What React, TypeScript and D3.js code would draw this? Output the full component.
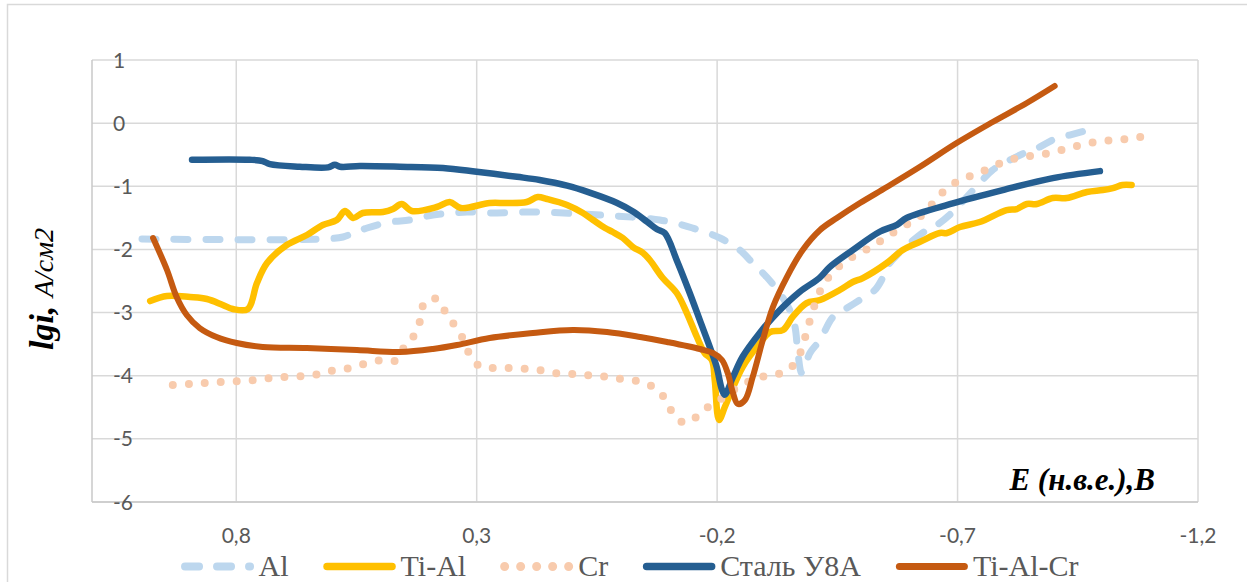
import React, { useEffect, useRef } from 'react';
import * as d3 from 'd3';

const W = 1247;
const H = 582;

// Axis ticks
const xTicks = [0.8, 0.3, -0.2, -0.7, -1.2];
const yTicks = [1, 0, -1, -2, -3, -4, -5, -6];
const xDomain: [number, number] = [1.1, -1.2];
const yDomain: [number, number] = [-6, 1];

const seriesNames = ['Al', 'Ti-Al', 'Cr', 'Сталь У8А', 'Ti-Al-Cr'];

// Polarization curves: [E (V), lg i]
const alData: [number, number][] = [
  [0.996, -1.835], [0.62, -1.835], [0.578, -1.803], [0.557, -1.74], [0.528, -1.661],
  [0.48, -1.566], [0.439, -1.534], [0.391, -1.455], [0.349, -1.423], [0.32, -1.407],
  [0.273, -1.423], [0.183, -1.407], [0.079, -1.439], [0.009, -1.471], [-0.081, -1.534],
  [-0.149, -1.661], [-0.206, -1.819], [-0.247, -2.009], [-0.274, -2.215], [-0.303, -2.437],
  [-0.33, -2.69], [-0.351, -2.959], [-0.362, -3.229], [-0.368, -3.64], [-0.376, -3.957],
  [-0.393, -3.64], [-0.414, -3.435], [-0.441, -3.07], [-0.47, -2.928], [-0.503, -2.769],
  [-0.528, -2.643], [-0.542, -2.484], [-0.553, -2.278], [-0.574, -2.088], [-0.601, -1.898],
  [-0.636, -1.692], [-0.657, -1.613], [-0.69, -1.407], [-0.719, -1.17], [-0.746, -0.948],
  [-0.773, -0.742], [-0.809, -0.584], [-0.844, -0.457], [-0.871, -0.378], [-0.898, -0.267],
  [-0.933, -0.188], [-0.989, -0.077],
];

const tiAlData: [number, number][] = [
  [0.979, -2.817], [0.944, -2.738], [0.896, -2.754], [0.861, -2.785], [0.828, -2.88],
  [0.807, -2.944], [0.776, -2.944], [0.757, -2.532], [0.736, -2.215], [0.695, -1.93],
  [0.653, -1.772], [0.62, -1.613], [0.591, -1.534], [0.574, -1.391], [0.557, -1.502],
  [0.537, -1.423], [0.495, -1.407], [0.474, -1.36], [0.456, -1.281], [0.435, -1.391],
  [0.383, -1.328], [0.356, -1.249], [0.333, -1.344], [0.273, -1.265], [0.237, -1.265],
  [0.196, -1.249], [0.173, -1.17], [0.154, -1.201], [0.112, -1.296], [0.079, -1.423],
  [0.058, -1.534], [0.033, -1.661], [0.017, -1.724], [-0.004, -1.819], [-0.025, -1.962],
  [-0.046, -2.057], [-0.06, -2.168], [-0.087, -2.453], [-0.116, -2.69], [-0.137, -3.007],
  [-0.158, -3.387], [-0.174, -3.64], [-0.189, -3.751], [-0.195, -4.068], [-0.204, -4.702],
  [-0.216, -4.496], [-0.231, -4.226], [-0.253, -3.862], [-0.289, -3.482], [-0.31, -3.308],
  [-0.337, -3.276], [-0.357, -3.07], [-0.386, -2.849], [-0.414, -2.801], [-0.455, -2.643],
  [-0.482, -2.516], [-0.503, -2.453], [-0.553, -2.215], [-0.586, -2.009], [-0.621, -1.882],
  [-0.663, -1.74], [-0.678, -1.74], [-0.705, -1.645], [-0.746, -1.566], [-0.802, -1.376],
  [-0.823, -1.36], [-0.844, -1.281], [-0.865, -1.281], [-0.898, -1.186], [-0.927, -1.186],
  [-0.969, -1.091], [-1.002, -1.059], [-1.023, -1.028], [-1.043, -0.98], [-1.062, -0.98],
];

const crData: [number, number][] = [
  [0.932, -4.147], [0.896, -4.131], [0.863, -4.115], [0.828, -4.099], [0.793, -4.084],
  [0.76, -4.068], [0.727, -4.036], [0.695, -4.02], [0.659, -4.004], [0.626, -3.973],
  [0.595, -3.909], [0.562, -3.878], [0.528, -3.799], [0.495, -3.751], [0.464, -3.751],
  [0.449, -3.514], [0.426, -3.324], [0.416, -3.07], [0.408, -2.833], [0.381, -2.785],
  [0.364, -3.007], [0.345, -3.213], [0.327, -3.435], [0.314, -3.672], [0.291, -3.862],
  [0.258, -3.878], [0.225, -3.878], [0.191, -3.894], [0.158, -3.925], [0.125, -3.973],
  [0.09, -3.973], [0.056, -4.004], [0.023, -4.02], [-0.011, -4.068], [-0.044, -4.099],
  [-0.073, -4.21], [-0.095, -4.4], [-0.11, -4.622], [-0.135, -4.749], [-0.164, -4.606],
  [-0.189, -4.448], [-0.221, -4.31], [-0.245, -4.163], [-0.28, -4.052], [-0.31, -3.988],
  [-0.343, -3.941], [-0.366, -3.751], [-0.378, -3.529], [-0.387, -3.276], [-0.397, -3.023],
  [-0.408, -2.769], [-0.422, -2.547], [-0.441, -2.357], [-0.47, -2.168], [-0.497, -2.057],
  [-0.524, -1.946], [-0.549, -1.819], [-0.578, -1.677], [-0.607, -1.55], [-0.634, -1.407],
  [-0.655, -1.201], [-0.68, -1.028], [-0.709, -0.885], [-0.74, -0.806], [-0.771, -0.695],
  [-0.802, -0.6], [-0.834, -0.536], [-0.867, -0.505], [-0.9, -0.457], [-0.933, -0.394],
  [-0.966, -0.33], [-1.0, -0.283], [-1.033, -0.267], [-1.066, -0.236], [-1.1, -0.188],
];

const steelData: [number, number][] = [
  [0.892, -0.58], [0.772, -0.58], [0.745, -0.6], [0.73, -0.65], [0.668, -0.69],
  [0.609, -0.7], [0.595, -0.66], [0.584, -0.69], [0.543, -0.68], [0.46, -0.69],
  [0.37, -0.71], [0.3, -0.77], [0.216, -0.85], [0.169, -0.9], [0.112, -0.99],
  [0.065, -1.1], [0.009, -1.26], [-0.025, -1.4], [-0.054, -1.56], [-0.075, -1.68],
  [-0.091, -1.74], [-0.116, -2.17], [-0.143, -2.69], [-0.164, -3.12], [-0.185, -3.55],
  [-0.199, -3.86], [-0.21, -4.22], [-0.216, -4.3], [-0.233, -4.02], [-0.253, -3.7],
  [-0.289, -3.32], [-0.324, -3.01], [-0.372, -2.67], [-0.413, -2.45], [-0.434, -2.28],
  [-0.482, -2.01], [-0.538, -1.72], [-0.574, -1.61], [-0.594, -1.5], [-0.69, -1.27],
  [-0.794, -1.06], [-0.898, -0.87], [-0.996, -0.76],
];

const tiAlCrData: [number, number][] = [
  [0.973, -1.819], [0.944, -2.326], [0.924, -2.754], [0.903, -3.039], [0.876, -3.245],
  [0.841, -3.387], [0.799, -3.482], [0.745, -3.546], [0.653, -3.561], [0.549, -3.593],
  [0.46, -3.625], [0.391, -3.577], [0.341, -3.514], [0.273, -3.403], [0.183, -3.324],
  [0.1, -3.276], [0.029, -3.308], [-0.04, -3.387], [-0.096, -3.466], [-0.164, -3.577],
  [-0.191, -3.64], [-0.21, -3.751], [-0.222, -3.957], [-0.233, -4.274], [-0.243, -4.448],
  [-0.258, -4.385], [-0.274, -4.02], [-0.295, -3.435], [-0.316, -2.912], [-0.345, -2.437],
  [-0.378, -2.009], [-0.414, -1.692], [-0.449, -1.502], [-0.497, -1.265], [-0.553, -1.011],
  [-0.621, -0.695], [-0.698, -0.315], [-0.773, 0.018], [-0.844, 0.319], [-0.902, 0.588],
];

const seriesData = [alData, tiAlData, crData, steelData, tiAlCrData];

type LineStyle = { color: string; width: number; dash: string | null };
const lineStyles: LineStyle[] = [
  { color: '#BDD7EE', width: 7, dash: '14 18' },
  { color: '#FFC000', width: 6.5, dash: null },
  { color: '#F8CBAD', width: 8, dash: '0 16' },
  { color: '#255E91', width: 6.5, dash: null },
  { color: '#C55A11', width: 6, dash: null },
];

const fmt = (v: number) => String(v).replace('.', ',');

const SERIF = "'Liberation Serif', 'Times New Roman', Times, serif";
const SANS = "Lato, 'Open Sans', sans-serif";

export default function App() {
  const ref = useRef<SVGSVGElement | null>(null);

  useEffect(() => {
    const svg = d3.select(ref.current);
    svg.selectAll('*').remove();

    const plot = { left: 92, right: 1198, top: 60, bottom: 502 };
    const x = d3.scaleLinear().domain(xDomain).range([plot.left, plot.right]);
    const y = d3.scaleLinear().domain(yDomain).range([plot.bottom, plot.top]);

    // chart frame
    svg.append('rect')
      .attr('x', 7.5).attr('y', 4.5)
      .attr('width', W + 40).attr('height', H + 40)
      .attr('fill', '#fff').attr('stroke', '#D9D9D9').attr('stroke-width', 1.5);

    const grid = svg.append('g');
    grid.selectAll('line.h').data(yTicks).enter().append('line')
      .attr('x1', plot.left).attr('x2', plot.right)
      .attr('y1', d => y(d)).attr('y2', d => y(d))
      .attr('stroke', '#D9D9D9').attr('stroke-width', 1.5);
    grid.selectAll('line.v').data(xTicks).enter().append('line')
      .attr('y1', plot.top).attr('y2', plot.bottom)
      .attr('x1', d => x(d)).attr('x2', d => x(d))
      .attr('stroke', '#D9D9D9').attr('stroke-width', 1.5);

    // axis lines
    svg.append('line')
      .attr('x1', plot.left).attr('x2', plot.left)
      .attr('y1', plot.top).attr('y2', plot.bottom)
      .attr('stroke', '#C8C8C8').attr('stroke-width', 1.5);
    svg.append('line')
      .attr('x1', plot.left).attr('x2', plot.right)
      .attr('y1', plot.bottom).attr('y2', plot.bottom)
      .attr('stroke', '#C8C8C8').attr('stroke-width', 1.5);

    // tick labels
    svg.append('g').selectAll('text').data(yTicks).enter().append('text')
      .attr('x', 113).attr('y', d => y(d)).attr('dy', '0.36em')
      .style('font-family', SANS).style('font-size', '21px').attr('fill', '#595959')
      .text(d => fmt(d));
    svg.append('g').selectAll('text').data(xTicks).enter().append('text')
      .attr('x', d => x(d)).attr('y', 535).attr('dy', '0.36em')
      .attr('text-anchor', 'middle')
      .style('font-family', SANS).style('font-size', '21px').attr('fill', '#595959')
      .text(d => fmt(d));

    // curves
    const line = d3.line<[number, number]>()
      .x(d => x(d[0])).y(d => y(d[1]))
      .curve(d3.curveCatmullRom.alpha(0.5));
    const curves = svg.append('g').attr('fill', 'none');
    seriesData.forEach((data, i) => {
      const st = lineStyles[i];
      const p = curves.append('path')
        .attr('d', line(data))
        .attr('stroke', st.color)
        .attr('stroke-width', st.width)
        .attr('stroke-linecap', 'round')
        .attr('stroke-linejoin', 'round');
      if (st.dash) p.attr('stroke-dasharray', st.dash);
    });

    // axis titles
    svg.append('text')
      .attr('x', 1155).attr('y', 490)
      .attr('text-anchor', 'end')
      .style('font-family', SERIF).style('font-size', '31px')
      .style('font-weight', 'bold').style('font-style', 'italic').attr('fill', '#000')
      .text('E (н.в.е.),В');

    const yt = svg.append('text')
      .attr('transform', 'translate(53,289) rotate(-90)')
      .attr('text-anchor', 'middle')
      .style('font-family', SERIF).style('font-style', 'italic').attr('fill', '#000');
    yt.append('tspan').style('font-size', '34px').style('font-weight', 'bold').text('lgi, ');
    yt.append('tspan').style('font-size', '28px').text('A/см2');

    // legend
    const legend = svg.append('g');
    const sampleLen = 72;
    const items = seriesNames.map((name, i) => {
      const g = legend.append('g');
      const st = lineStyles[i];
      const s = g.append('line')
        .attr('x1', 3.5).attr('x2', sampleLen - 3.5)
        .attr('y1', 566.5).attr('y2', 566.5)
        .attr('stroke', st.color).attr('stroke-width', st.width + 1)
        .attr('stroke-linecap', 'round');
      if (st.dash) s.attr('stroke-dasharray', st.dash);
      const t = g.append('text')
        .attr('x', sampleLen + 5).attr('y', 576)
        .style('font-family', SERIF).style('font-size', '30px').attr('fill', '#595959')
        .text(name);
      const tw = (t.node() as SVGTextElement).getComputedTextLength();
      return { g, w: sampleLen + 5 + tw };
    });
    const gap = 35;
    const total = d3.sum(items, d => d.w) + gap * (items.length - 1);
    let cx = 630 - total / 2;
    items.forEach(it => {
      it.g.attr('transform', `translate(${cx},0)`);
      cx += it.w + gap;
    });
  }, []);

  return (
    <svg
      ref={ref}
      width={W}
      height={H}
      style={{ position: 'absolute', left: 0, top: 0, background: '#fff' }}
    />
  );
}
